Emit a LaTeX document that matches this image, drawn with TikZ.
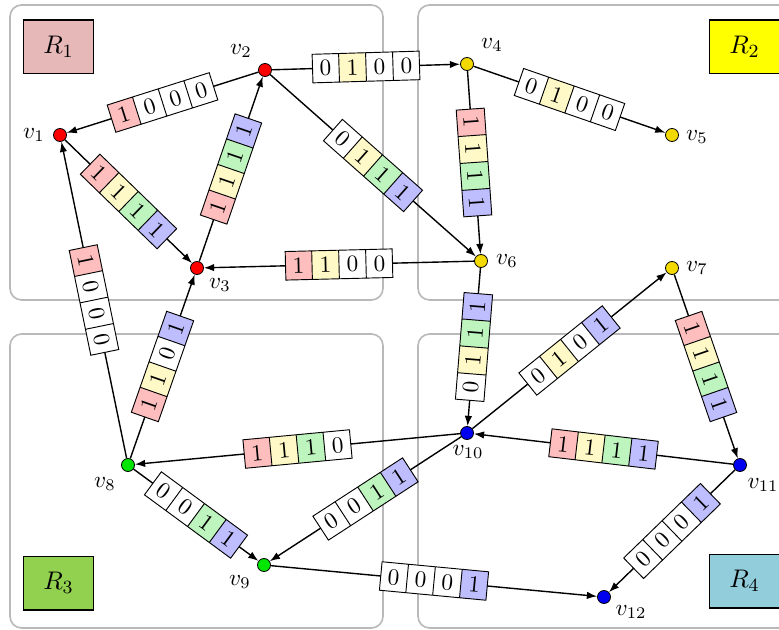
\documentclass[tikz,border=0pt]{standalone}
\usetikzlibrary{arrows.meta,shapes.multipart}
\definecolor{bitpink}{RGB}{255,190,190}
\definecolor{bityellow}{RGB}{255,249,200}
\definecolor{bitgreen}{RGB}{190,245,190}
\definecolor{bitblue}{RGB}{190,190,255}
\definecolor{rA}{RGB}{230,184,183}
\definecolor{rB}{RGB}{255,255,0}
\definecolor{rC}{RGB}{146,208,80}
\definecolor{rD}{RGB}{146,205,220}
\definecolor{vred}{RGB}{255,0,0}
\definecolor{vyel}{RGB}{242,218,0}
\definecolor{vgrn}{RGB}{0,230,0}
\definecolor{vblu}{RGB}{0,0,240}
\definecolor{regiongray}{RGB}{185,185,185}
\newcommand{\bitsq}[4]{#1\nodepart{two}#2\nodepart{three}#3\nodepart{four}#4}
\begin{document}
\begin{tikzpicture}[x=0.43pt,y=-0.43pt,
  region/.style={draw=regiongray, line width=0.7pt, rounded corners=5pt},
  legend/.style={draw=black, line width=0.45pt, minimum width=30.5pt, minimum height=23.2pt, inner sep=0pt, font=\fontsize{11}{13}\selectfont},
  vert/.style={circle, draw=black, line width=0.35pt, inner sep=0pt, minimum size=5.6pt},
  vlab/.style={inner sep=0pt},
  edge/.style={draw=black, line width=0.6pt, -{Latex[length=4.4pt,width=3.2pt]}},
  bits/.style={rectangle split, rectangle split horizontal, rectangle split parts=4,
    draw=black, line width=0.4pt, inner xsep=3.1pt, inner ysep=2.7pt, sloped, midway}
]
\useasboundingbox (0,0) rectangle (779,630);
\clip (0,0) rectangle (779,630);
% regions
\draw[region] (10,5) rectangle (383,300);
\draw[region] (418,5) rectangle (800,300);
\draw[region] (10,334) rectangle (383,628);
\draw[region] (418,334) rectangle (800,628);
% legend boxes
\node[legend, fill=rA] (R1) at (58.5,47) {$R_1$};
\node[legend, fill=rB] (R2) at (744.5,47) {$R_2$};
\node[legend, fill=rC] (R3) at (58.5,583) {$R_3$};
\node[legend, fill=rD] (R4) at (744.5,581) {$R_4$};
% vertices
\node[vert, fill=vred] (v1) at (60,135) {};
\node[vert, fill=vred] (v2) at (265,70) {};
\node[vert, fill=vred] (v3) at (197,268) {};
\node[vert, fill=vyel] (v4) at (467,64) {};
\node[vert, fill=vyel] (v5) at (672,135) {};
\node[vert, fill=vyel] (v6) at (481,261) {};
\node[vert, fill=vyel] (v7) at (672,268) {};
\node[vert, fill=vgrn] (v8) at (128,465) {};
\node[vert, fill=vgrn] (v9) at (264,565) {};
\node[vert, fill=vblu] (v10) at (467,433) {};
\node[vert, fill=vblu] (v11) at (740,465) {};
\node[vert, fill=vblu] (v12) at (604,597) {};
% vertex labels
\node[vlab] (t1) at (34,135) {$v_1$};
\node[vlab] (t2) at (241,51) {$v_2$};
\node[vlab] (t3) at (220,285) {$v_3$};
\node[vlab] (t4) at (492,45) {$v_4$};
\node[vlab] (t5) at (697,137) {$v_5$};
\node[vlab] (t6) at (507,261) {$v_6$};
\node[vlab] (t7) at (697,268) {$v_7$};
\node[vlab] (t8) at (105,484) {$v_8$};
\node[vlab] (t9) at (240,582) {$v_9$};
\node[vlab] (t10) at (468,452) {$v_{10}$};
\node[vlab] (t11) at (763,485) {$v_{11}$};
\node[vlab] (t12) at (631,612) {$v_{12}$};
% edges
\draw[edge] (v2) -- node[bits, rectangle split part fill={bitpink,white,white,white}] (b1) {\bitsq1000} (v1);
\draw[edge] (v1) -- node[bits, rectangle split part fill={bitpink,bityellow,bitgreen,bitblue}] (b2) {\bitsq1111} (v3);
\draw[edge] (v3) -- node[bits, rectangle split part fill={bitpink,bityellow,bitgreen,bitblue}] (b3) {\bitsq1111} (v2);
\draw[edge] (v2) -- node[bits, rectangle split part fill={white,bityellow,white,white}] (b4) {\bitsq0100} (v4);
\draw[edge] (v2) -- node[bits, rectangle split part fill={white,bityellow,bitgreen,bitblue}] (b5) {\bitsq0111} (v6);
\draw[edge] (v4) -- node[bits, rectangle split part fill={white,bityellow,white,white}] (b6) {\bitsq0100} (v5);
\draw[edge] (v4) -- node[bits, rectangle split part fill={bitpink,bityellow,bitgreen,bitblue}] (b7) {\bitsq1111} (v6);
\draw[edge] (v6) -- node[bits, rectangle split part fill={bitpink,bityellow,white,white}] (b8) {\bitsq1100} (v3);
\draw[edge] (v6) -- node[bits, rectangle split part fill={white,bityellow,bitgreen,bitblue}] (b9) {\bitsq0111} (v10);
\draw[edge] (v8) -- node[bits, rectangle split part fill={bitpink,white,white,white}] (b10) {\bitsq1000} (v1);
\draw[edge] (v8) -- node[bits, rectangle split part fill={bitpink,bityellow,white,bitblue}] (b11) {\bitsq1101} (v3);
\draw[edge] (v10) -- node[bits, rectangle split part fill={bitpink,bityellow,bitgreen,white}] (b12) {\bitsq1110} (v8);
\draw[edge] (v8) -- node[bits, rectangle split part fill={white,white,bitgreen,bitblue}] (b13) {\bitsq0011} (v9);
\draw[edge] (v10) -- node[bits, rectangle split part fill={white,white,bitgreen,bitblue}] (b14) {\bitsq0011} (v9);
\draw[edge] (v9) -- node[bits, rectangle split part fill={white,white,white,bitblue}] (b15) {\bitsq0001} (v12);
\draw[edge] (v10) -- node[bits, rectangle split part fill={white,bityellow,white,bitblue}] (b16) {\bitsq0101} (v7);
\draw[edge] (v7) -- node[bits, rectangle split part fill={bitpink,bityellow,bitgreen,bitblue}] (b17) {\bitsq1111} (v11);
\draw[edge] (v11) -- node[bits, rectangle split part fill={bitpink,bityellow,bitgreen,bitblue}] (b18) {\bitsq1111} (v10);
\draw[edge] (v11) -- node[bits, rectangle split part fill={white,white,white,bitblue}] (b19) {\bitsq0001} (v12);
\end{tikzpicture}
\end{document}
